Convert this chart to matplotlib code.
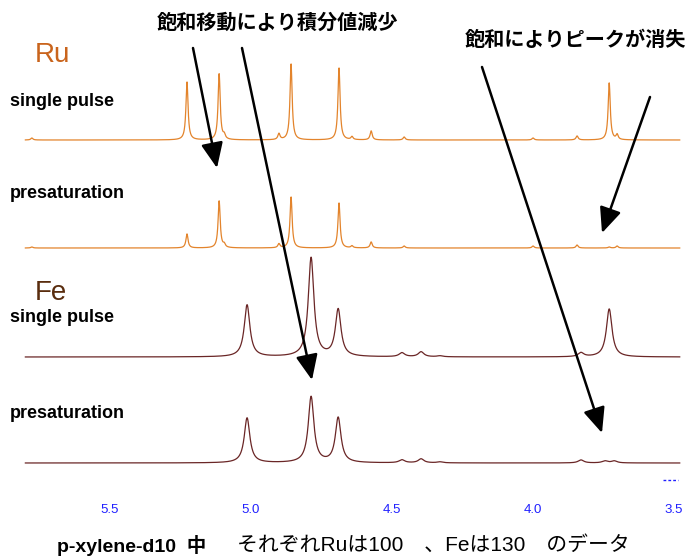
import numpy as np
import matplotlib
matplotlib.use("Agg")
import matplotlib.pyplot as plt
from matplotlib.lines import Line2D

plt.rcParams['font.family'] = ['Liberation Sans', 'Noto Sans CJK JP', 'DejaVu Sans']

# peak positions (ppm) and intensities (arbitrary units)
ru_ppm = [5.777, 5.227, 5.113, 5.095, 4.901, 4.858, 4.688, 4.642, 4.574, 4.457, 4.00, 3.844, 3.730, 3.702]
ru_single = [2, 58, 66, 4, 6, 76, 72, 3, 9, 3, 2, 4, 57, 5]
ru_presat = [1, 14, 47, 3, 4, 51, 45, 2, 6, 2, 2, 3, 1, 2]

fe_ppm = [5.014, 4.787, 4.691, 4.465, 4.397, 4.330, 3.830, 3.745, 3.730, 3.712]
fe_single = [52, 99, 47, 4, 5, 1, 4, 0, 48, 0]
fe_presat = [45, 66, 45, 3, 4, 1, 3, 2, 0, 2]

tick_ppm = [5.5, 5.0, 4.5, 4.0, 3.5]
tick_labels = ["5.5", "5.0", "4.5", "4.0", "3.5"]

W, H = 691, 556
fig = plt.figure(figsize=(W / 100, H / 100), dpi=100)
ax = fig.add_axes([0, 56 / H, 1, 500 / H])
ax.set_xlim(5.890, 3.440)
ax.set_ylim(500, 0)

ppm = np.linspace(5.80, 3.48, 4000)


def spectrum(pos, amp, hw):
    y = np.zeros_like(ppm)
    for p, a in zip(pos, amp):
        y += a / (1 + ((ppm - p) / hw) ** 2)
    return y


ru_col = '#E3842C'
fe_col = '#6A2626'
ax.plot(ppm, 140 - spectrum(ru_ppm, ru_single, 0.0045), color=ru_col, lw=0.9)
ax.plot(ppm, 248 - spectrum(ru_ppm, ru_presat, 0.0045), color=ru_col, lw=0.9)
ax.plot(ppm, 357 - spectrum(fe_ppm, fe_single, 0.012), color=fe_col, lw=0.9)
ax.plot(ppm, 463 - spectrum(fe_ppm, fe_presat, 0.012), color=fe_col, lw=0.9)

ax.set_xticks(tick_ppm)
ax.set_xticklabels(tick_labels)
ax.tick_params(axis='x', length=0, pad=3, labelsize=9.5, labelcolor='#2020FF')
ax.set_yticks([])
for s in ax.spines.values():
    s.set_visible(False)


def ftext(x, y, s, **kw):
    fig.text(x / W, 1 - y / H, s, va='center', **kw)


ftext(35, 55, "Ru", fontsize=20, color='#C9641C')
ftext(10, 102, "single pulse", fontsize=13, fontweight='bold')
ftext(10, 194, "presaturation", fontsize=13, fontweight='bold')
ftext(35, 293, "Fe", fontsize=20, color='#5A2D0E')
ftext(10, 318, "single pulse", fontsize=13, fontweight='bold')
ftext(10, 414, "presaturation", fontsize=13, fontweight='bold')

ftext(277, 22, "飽和移動により積分値減少", fontsize=14.5, fontweight='bold', ha='center',
      family=['Noto Sans CJK JP'])
ftext(575, 40, "飽和によりピークが消失", fontsize=14.5, fontweight='bold', ha='center',
      family=['Noto Sans CJK JP'])

ftext(57, 545, "p-xylene-d10  中", fontsize=14, fontweight='bold')
ftext(237, 545, "それぞれRuは100　、Feは130　のデータ", fontsize=15)

# small blue dashed mark at the lower right
fig.add_artist(Line2D([663 / W, 678 / W], [1 - 480 / H, 1 - 480 / H],
                      transform=fig.transFigure, color='#2020FF', lw=1,
                      dashes=(2, 1.5)))

# arrows (figure pixels, y measured from top)
arrows = [((193, 48), (217, 168)), ((242, 48), (312, 380)),
          ((482, 67), (602, 433)), ((650, 97), (602, 233))]
for (x0, y0), (x1, y1) in arrows:
    fig.add_artist(matplotlib.patches.FancyArrowPatch(
        (x0 / W, 1 - y0 / H), (x1 / W, 1 - y1 / H), transform=fig.transFigure,
        arrowstyle='-|>,head_length=0.55,head_width=0.24', mutation_scale=28,
        lw=1.8, color='black', shrinkA=0, shrinkB=0))

fig.savefig("out.png", dpi=100)
